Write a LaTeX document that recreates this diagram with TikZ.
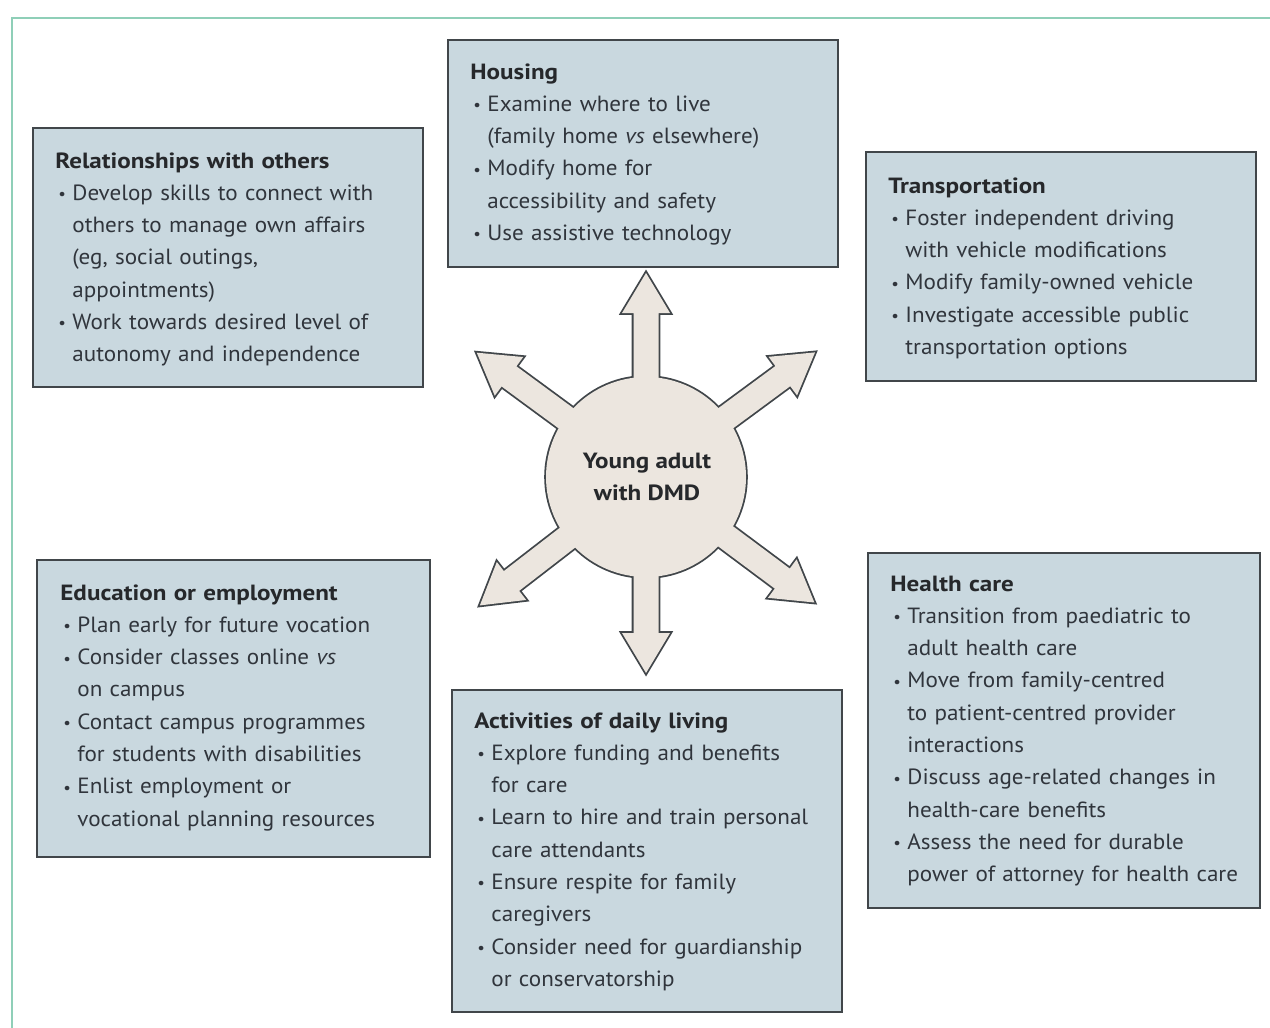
\documentclass[tikz,border=0pt]{standalone}
\usepackage{fontspec}
\setmainfont{PT Sans}[UprightFeatures={FakeStretch=1.05}, ItalicFeatures={FakeStretch=1.05}, BoldFeatures={FakeStretch=1.14}]
\usetikzlibrary{fit}
\definecolor{boxfill}{HTML}{C9D8DF}
\definecolor{boxline}{HTML}{41464A}
\definecolor{beige}{HTML}{ECE6DF}
\definecolor{frame}{HTML}{8FCFB8}
\definecolor{txt}{HTML}{30353C}
\definecolor{ttl}{HTML}{26282B}
\newcommand\itm{\makebox[8.5pt][l]{\hspace{1.5pt}\raisebox{0.3pt}{\footnotesize •}}}
\newcommand\cnt{\hspace*{8.5pt}}
\tikzset{
  box/.style={draw=boxline, fill=boxfill, line width=1pt, inner sep=0pt},
  boxtext/.style={anchor=base west, inner sep=0pt, text width=195pt, align=left,
    font=\fontsize{11}{16.15}\selectfont, text=txt},
  hubtext/.style={inner sep=0pt, align=center, font=\fontsize{11}{16}\selectfont\bfseries, text=ttl},
  arrowout/.style={draw=boxline, line width=1.8pt, line join=miter},
  arrowfill/.style={fill=beige},
}
\newcommand\ttlf[1]{{\color{ttl}\bfseries #1}}
\begin{document}
\begin{tikzpicture}[x=0.5pt,y=-0.5pt]
\useasboundingbox (0,0) rectangle (1270,1028);
% outer frame
\draw[frame, line width=1pt] (12,1028) -- (12,18) -- (1270,18);

% boxes
\node[box, fit={(448,40) (838,267)}] (housing) {};
\node[box, fit={(33,128) (423,387)}] (relations) {};
\node[box, fit={(866,152) (1256,381)}] (transport) {};
\node[box, fit={(37,560) (430,857)}] (education) {};
\node[box, fit={(452,690) (842,1012)}] (activities) {};
\node[box, fit={(868,553) (1260,908)}] (health) {};

% texts
\node[boxtext] (housingtxt) at (470,79) {\ttlf{Housing}\\
\itm Examine where to live\\
\cnt(family home \textit{vs} elsewhere)\\
\itm Modify home for\\
\cnt accessibility and safety\\
\itm Use assistive technology};

\node[boxtext] (relationstxt) at (55,168) {\ttlf{Relationships with others}\\
\itm Develop skills to connect with\\
\cnt others to manage own affairs\\
\cnt(eg, social outings,\\
\cnt appointments)\\
\itm Work towards desired level of\\
\cnt autonomy and independence};

\node[boxtext] (transporttxt) at (888,193) {\ttlf{Transportation}\\
\itm Foster independent driving\\
\cnt with vehicle modifications\\
\itm Modify family-owned vehicle\\
\itm Investigate accessible public\\
\cnt transportation options};

\node[boxtext] (educationtxt) at (60,600) {\ttlf{Education or employment}\\
\itm Plan early for future vocation\\
\itm Consider classes online \textit{vs}\\
\cnt on campus\\
\itm Contact campus programmes\\
\cnt for students with disabilities\\
\itm Enlist employment or\\
\cnt vocational planning resources};

\node[boxtext] (activitiestxt) at (474,728) {\ttlf{Activities of daily living}\\
\itm Explore funding and benefits\\
\cnt for care\\
\itm Learn to hire and train personal\\
\cnt care attendants\\
\itm Ensure respite for family\\
\cnt caregivers\\
\itm Consider need for guardianship\\
\cnt or conservatorship};

\node[boxtext] (healthtxt) at (890,591) {\ttlf{Health care}\\
\itm Transition from paediatric to\\
\cnt adult health care\\
\itm Move from family-centred\\
\cnt to patient-centred provider\\
\cnt interactions\\
\itm Discuss age-related changes in\\
\cnt health-care benefits\\
\itm Assess the need for durable\\
\cnt power of attorney for health care};

% hub with radiating arrows
\coordinate (hubc) at (646,477);
\begin{scope}[shift={(hubc)}]
  \foreach \a/\l in {90/204, 270/196, 143.7/210, 36.4/210, 217.7/210, 323.3/210} {
    \draw[arrowout, rotate=\a] (0,-12.5) -- (\l-40,-12.5) -- (\l-40,-24) -- (\l,0) -- (\l-40,24) -- (\l-40,12.5) -- (0,12.5) -- cycle;
  }
  \draw[arrowout] (0,0) circle [radius=100];
  \foreach \a/\l in {90/204, 270/196, 143.7/210, 36.4/210, 217.7/210, 323.3/210} {
    \fill[arrowfill, rotate=\a] (0,-12.5) -- (\l-40,-12.5) -- (\l-40,-24) -- (\l,0) -- (\l-40,24) -- (\l-40,12.5) -- (0,12.5) -- cycle;
  }
  \fill[arrowfill] (0,0) circle [radius=100];
\end{scope}
\node[hubtext] (hub) at (647,477) {Young adult\\with DMD};
\end{tikzpicture}
\end{document}
